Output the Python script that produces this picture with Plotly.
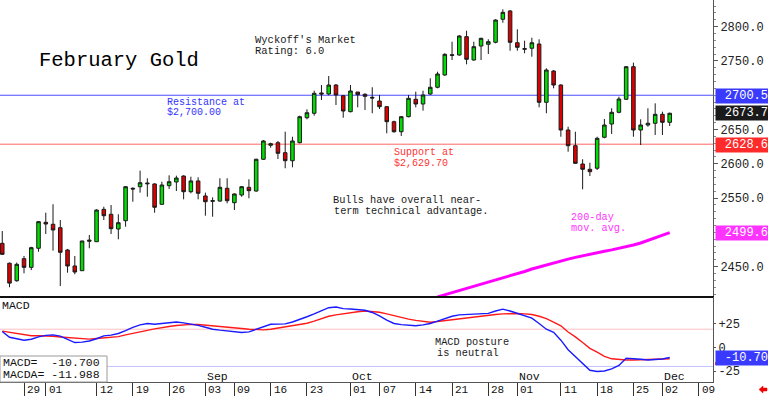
import plotly.graph_objects as go
import pandas as pd

# ---------------- data ----------------
holidays = ["2024-09-02", "2024-11-28"]
axis_days = [d for d in pd.bdate_range("2024-07-24", "2024-12-10")
             if d.strftime("%Y-%m-%d") not in holidays]

open_ = [2484, 2455, 2429.5, 2461.6, 2449, 2476.8, 2514.7, 2511.8, 2506.8, 2474.3,
         2451, 2444.1, 2487, 2486.4, 2533.6, 2526.4, 2504.9, 2517, 2564.3, 2566.6,
         2572, 2570.6, 2540.9, 2568.1, 2573.5, 2582.2, 2559.3, 2575, 2553.1, 2545.3,
         2545.7, 2564.3, 2543.3, 2554.5, 2565.7, 2560.3, 2606.6, 2627, 2630.8, 2616.2,
         2604.5, 2630.8, 2667.2, 2673.7, 2703.3, 2701.8, 2714.9, 2699.3, 2676, 2704.7,
         2701.4, 2697, 2691.6, 2683.3, 2661.4, 2646.8, 2668.7, 2694.1, 2687.2, 2701.8,
         2711.6, 2729.5, 2759.1, 2758.7, 2785.4, 2751.4, 2771.8, 2774.3, 2777.2, 2810.8,
         2822.9, 2776.6, 2767, 2768.5, 2774.7, 2689.7, 2735.3, 2714.9, 2649.3, 2626.4,
         2599.7, 2592, 2593.5, 2638.7, 2658, 2675.1, 2694.1, 2741.6, 2649.3, 2656.6,
         2659.1, 2672.2, 2660.5]
high = [2502, 2456, 2456, 2465.5, 2479, 2516.6, 2528.7, 2541, 2518, 2475.8,
        2465.5, 2487.9, 2496.2, 2533.6, 2537.4, 2539.9, 2526.4, 2567.6, 2565.7, 2590,
        2578.9, 2571.6, 2573.9, 2583.2, 2582.7, 2583.2, 2581.2, 2580.3, 2557.9, 2551.1,
        2578.9, 2578.9, 2557, 2567.6, 2577.4, 2607.5, 2634.7, 2630.8, 2633.3, 2646.8,
        2639.5, 2670.2, 2679.5, 2706.6, 2714.9, 2728, 2716.4, 2700.4, 2714.9, 2704.7,
        2702.8, 2711.6, 2700.4, 2684.3, 2662.9, 2669.7, 2700.4, 2705.2, 2706.6, 2724.7,
        2734.3, 2761.2, 2778.1, 2787.9, 2794.1, 2778.1, 2783.9, 2781.6, 2810.8, 2825.3,
        2824.3, 2796.2, 2779.6, 2783.9, 2781.6, 2739.3, 2736.8, 2716, 2654.1, 2646.8,
        2606.6, 2601.6, 2639.5, 2665.4, 2681, 2697.9, 2742.6, 2747.5, 2664.9, 2681,
        2688.2, 2676, 2674.6]
low = [2467, 2420, 2428, 2440.3, 2445, 2471.8, 2497.6, 2473.3, 2421.8, 2441.2,
       2438.9, 2443.6, 2476.8, 2486, 2518, 2497.6, 2489.9, 2508.3, 2544.7, 2557.9,
       2552, 2528.7, 2540.6, 2563.3, 2560.3, 2548.2, 2557, 2548.2, 2524.3, 2522.9,
       2544.7, 2542.4, 2532.6, 2552, 2549.7, 2559.3, 2605.6, 2623.5, 2607, 2593.5,
       2594.9, 2629.9, 2664.9, 2670.2, 2693.1, 2699.9, 2685.8, 2667.2, 2675.1, 2682.4,
       2678.5, 2673.7, 2679.9, 2644.5, 2645.4, 2640.6, 2667.8, 2682.4, 2677.5, 2700.4,
       2710.1, 2728.5, 2751.4, 2757.7, 2745.1, 2750.4, 2751.4, 2760.1, 2775.7, 2805.8,
       2764.9, 2764.9, 2761.2, 2756.2, 2682.4, 2673.7, 2710.1, 2639.5, 2617.6, 2600.1,
       2562.8, 2582.2, 2591, 2637.2, 2643.5, 2673.7, 2693.1, 2639.5, 2627.4, 2654.1,
       2642, 2642, 2655.1]
close = [2468, 2426, 2453.4, 2449, 2477.7, 2515.6, 2512.2, 2503.5, 2470.9, 2451,
         2442.2, 2487.4, 2488.5, 2532.6, 2524.3, 2505.4, 2514.1, 2566.6, 2563.3, 2572.4,
         2571, 2536.6, 2569.1, 2573.9, 2579.3, 2559.3, 2575, 2557, 2544.7, 2546.2,
         2565.7, 2546.2, 2556, 2566.6, 2560.8, 2606.6, 2633.3, 2629.3, 2615.3, 2604.5,
         2633.3, 2668.7, 2674.5, 2702.8, 2701.8, 2714.9, 2700.4, 2677, 2706.2, 2700.8,
         2698.4, 2696, 2683.3, 2661.4, 2646.8, 2668.7, 2695.5, 2687.2, 2700.4, 2711.6,
         2731, 2759.7, 2758.2, 2786.4, 2752.4, 2770.8, 2783, 2778.1, 2809.7, 2820.9,
         2777.2, 2769.9, 2767.9, 2776.6, 2689.7, 2736.8, 2714.9, 2649.3, 2626.4, 2600.7,
         2592, 2588.5, 2637.2, 2656.6, 2675.1, 2694.5, 2741.6, 2649.3, 2656.6, 2659.1,
         2672.2, 2660.5, 2673.7]

macd = [16.5, 10.5, 9,
        7.5, 8.5, 11, 12.5, 13, 11.8, 8, 5, 5.5, 6.6,
        9, 12, 12.8, 14.5, 17.5, 21, 23.5, 25, 24.2, 25,
        26.2, 26.5, 25.6, 24.6, 23, 21, 19, 18, 17.4, 16.6,
        15.6, 16.2, 19, 22, 24.1, 24.3, 24.6, 26.5, 29, 32,
        35, 38.5, 41.5, 42.2, 40.5, 40.2, 39.8, 38.8, 36.5, 33,
        28.5, 25, 23.8, 23.2, 22.6, 23.5, 25, 27.5, 30, 32.5,
        34, 34.5, 35, 35.4, 35.6, 38, 40, 38, 35.5, 33,
        30.5, 25, 19, 15.8, 7.5, -2.5, -9.5, -17, -24, -25.3,
        -24.8, -22.5, -19, -11.5, -11.7, -12.5, -13.3, -12.6, -12.2, -10.7]
macda = [17, 15.8, 14.2,
         12.8, 12.2, 12.1, 12.1, 11.6, 10.8, 10.1, 9.5, 8.8, 8.6,
         9.3, 9.8, 10.2, 11.2, 13, 14.8, 16.3, 17.8, 19.3, 20.8,
         21.8, 22.9, 23.6, 24, 23.9, 23.3, 22.8, 22, 21.1, 20.3,
         19.7, 19, 18.4, 18.3, 19, 20.3, 21.3, 22.5, 23.8, 25.2,
         27.5, 30, 32.5, 34, 35.3, 36.5, 37.2, 38, 37.5, 36.7,
         35, 33, 31, 29.5, 28.2, 27.2, 26.3, 27, 28, 29,
         30, 31, 32, 32.8, 33.6, 34.4, 35, 35.5, 35.4, 35,
         34.4, 32.5, 30, 26.5, 22.5, 16, 11, 5, -1, -5,
         -9.5, -12, -13, -13.3, -13.2, -13, -12.7, -12.4, -12.2, -11.988]
ma200 = [None] * 60 + [2406, 2409, 2412, 2415.5, 2418.5, 2421.5, 2424.5, 2427.5, 2430.5,
                       2433.5, 2436.5, 2439.5, 2443, 2446.5, 2449.5, 2453, 2456, 2458.5,
                       2461, 2463.5, 2466, 2468.5, 2470.5, 2472.5, 2474.5, 2476.5, 2479,
                       2481.5, 2484.5, 2488, 2492, 2496, 2499.6]

resistance = 2700.0
support = 2628.6
macd_hi, macd_lo = 19, -20

day_label_dates = ["2024-07-29", "2024-08-01", "2024-08-12", "2024-08-19", "2024-08-26",
                   "2024-09-03", "2024-09-09", "2024-09-16", "2024-09-23", "2024-10-01",
                   "2024-10-07", "2024-10-14", "2024-10-21", "2024-10-28", "2024-11-01",
                   "2024-11-11", "2024-11-18", "2024-11-25", "2024-12-02", "2024-12-09"]
month_labels = [("2024-09-03", "Sep"), ("2024-10-01", "Oct"),
                ("2024-11-01", "Nov"), ("2024-12-02", "Dec")]

# ---------------- helpers ----------------
day_str = [d.strftime("%Y-%m-%d") for d in axis_days]
pos_of = {s: i for i, s in enumerate(day_str)}
n = len(close)
xpos = list(range(n))

FONT = "Liberation Mono"
PW, PH = 713, 382          # plot area size in px


def px(X):
    return X / PW


def py(Y):
    return (PH - Y) / PH


fig = go.Figure()
fig.add_trace(go.Candlestick(
    x=xpos, open=open_, high=high, low=low, close=close,
    increasing=dict(fillcolor="#00dd00", line=dict(color="#1a1a1a", width=1)),
    decreasing=dict(fillcolor="#dd0000", line=dict(color="#1a1a1a", width=1)),
    whiskerwidth=0, xaxis="x", yaxis="y", showlegend=False, hoverinfo="skip"))
fig.add_trace(go.Scatter(x=xpos, y=ma200, mode="lines",
                         line=dict(color="#ff00ff", width=3),
                         xaxis="x", yaxis="y", showlegend=False, hoverinfo="skip"))
fig.add_trace(go.Scatter(x=xpos, y=macda, mode="lines",
                         line=dict(color="#ff1a1a", width=1.4),
                         xaxis="x2", yaxis="y2", showlegend=False, hoverinfo="skip"))
fig.add_trace(go.Scatter(x=xpos, y=macd, mode="lines",
                         line=dict(color="#1a1aff", width=1.4),
                         xaxis="x2", yaxis="y2", showlegend=False, hoverinfo="skip"))

xr = [-0.31, 97.97]
tick_pos = [pos_of[d] for d in day_label_dates]

shapes = [
    dict(type="line", xref="paper", yref="y", x0=0, x1=1, y0=resistance, y1=resistance,
         line=dict(color="#4d4dff", width=1), layer="below"),
    dict(type="line", xref="paper", yref="y", x0=0, x1=1, y0=support, y1=support,
         line=dict(color="#ff6666", width=1), layer="below"),
    dict(type="line", xref="paper", yref="y2", x0=0, x1=1, y0=macd_hi, y1=macd_hi,
         line=dict(color="#ffc0c0", width=1), layer="below"),
    dict(type="line", xref="paper", yref="y2", x0=0, x1=1, y0=macd_lo, y1=macd_lo,
         line=dict(color="#c0c0ff", width=1), layer="below"),
    # readout box
    dict(type="rect", xref="paper", yref="paper", x0=0, x1=px(107), y0=py(382), y1=py(356),
         fillcolor="white", line=dict(color="#9a9a9a", width=1), layer="above"),
    # MACDA marker strip peeking out below the MACD value box
    dict(type="rect", xref="paper", yref="paper", x0=px(715), x1=px(768),
         y0=py(365), y1=py(362), fillcolor="#ff2a2a", line=dict(width=0), layer="above"),
]
# red arrow bottom-right
ax = [759, 763, 763, 767, 767, 763, 763]
ay = [389.5, 386, 388, 388, 391, 391, 393]
path = "M " + " L ".join(f"{px(a):.5f},{py(b):.5f}" for a, b in zip(ax, ay)) + " Z"
shapes.append(dict(type="path", xref="paper", yref="paper", path=path,
                   fillcolor="#ee0000", line=dict(color="#ee0000", width=0.5)))

ann = []


def text(t, X, Y, size, color="#111", xanchor="left"):
    ann.append(dict(text=t, xref="paper", yref="paper", x=px(X), y=py(Y),
                    xanchor=xanchor, yanchor="middle", showarrow=False,
                    font=dict(family=FONT, size=size, color=color)))


text("February Gold", 37, 60, 20.5, "#000")
text("Wyckoff's Market", 253, 40, 10.5, "#1a1a1a")
text("Rating: 6.0", 253, 51, 10.5, "#1a1a1a")
text("Resistance at", 165, 103, 10, "#3333ff")
text("$2,700.00", 165, 113, 10, "#3333ff")
text("Support at", 392, 153, 10, "#ff3333")
text("$2,629.70", 392, 163, 10, "#ff3333")
text("Bulls have overall near-", 331, 200, 10.3, "#1a1a1a")
text("term technical advantage.", 332, 210.5, 10.3, "#1a1a1a")
text("200-day", 569, 217.5, 10.2, "#ff33ff")
text("mov. avg.", 569, 228.3, 10.2, "#ff33ff")
text("MACD", 0, 305, 11.5, "#111")
text("MACD posture", 433, 341.5, 10.3, "#1a1a1a")
text("is neutral", 435, 352.5, 10.3, "#1a1a1a")
text("MACD=  -10.700", 1, 362, 11.5, "#111")
text("MACDA= -11.988", 1, 374.5, 11.5, "#111")

for d, lab in month_labels:
    ann.append(dict(text=lab, xref="x2", yref="paper", x=pos_of[d], y=py(376),
                    xanchor="left", yanchor="middle", xshift=0, showarrow=False,
                    font=dict(family=FONT, size=11.5, color="#111")))
for d in day_label_dates:
    ann.append(dict(text=d[-2:], xref="x2", yref="paper", x=pos_of[d], y=py(389.5),
                    xanchor="left", yanchor="middle", xshift=1, showarrow=False,
                    font=dict(family=FONT, size=11, color="#111")))


def side_label(t, Y, bg):
    ann.append(dict(text=t, xref="paper", yref="paper", x=1, y=py(Y), xanchor="left",
                    yanchor="middle", xshift=2, showarrow=False, width=51, height=12,
                    align="right", bgcolor=bg, borderpad=1,
                    font=dict(family=FONT, size=12, color="white")))


side_label(f"{resistance + 0.5:.1f}", 96, "#3a3aff")
side_label(f"{close[-1]:.1f}", 113.3, "#1a1a1a")
side_label(f"{support:.1f}", 145, "#ff2a2a")
side_label(f"{ma200[-1]:.1f}", 233.3, "#ff33ff")
side_label(f"{macd[-1]:.2f}", 357.5, "#3a3aff")

fig.update_layout(
    width=768, height=396, margin=dict(l=0, r=55, t=0, b=14),
    paper_bgcolor="white", plot_bgcolor="white", showlegend=False, hovermode=False,
    shapes=shapes, annotations=ann,
    xaxis=dict(domain=[0, 1], range=xr, anchor="y", showticklabels=False, ticks="",
               showgrid=False, zeroline=False, showline=True, linecolor="#111",
               linewidth=1.5, rangeslider=dict(visible=False), fixedrange=True),
    xaxis2=dict(domain=[0, 1], range=xr, anchor="y2", matches="x", showticklabels=False,
                ticks="outside", ticklen=14, tickwidth=1, tickcolor="#333",
                tickvals=tick_pos, showgrid=False, zeroline=False, showline=True,
                linecolor="#555", linewidth=1),
    yaxis=dict(domain=[(PH - 296) / PH, 1], range=[2407.2, 2838.9], side="right",
               anchor="x", tickvals=[2450, 2550, 2600, 2650, 2750, 2800],
               tickformat=".1f", ticks="outside", ticklen=4, tickcolor="#555",
               minor=dict(dtick=10, ticks="outside", ticklen=2, tickcolor="#888"),
               showline=True, linecolor="#555", showgrid=False, zeroline=False,
               tickfont=dict(family=FONT, size=12, color="#222")),
    yaxis2=dict(domain=[0, (PH - 297) / PH], range=[-36.3, 52.7], side="right",
                anchor="x2", tickvals=[25, 0, -25], ticktext=["+25", "0", "-25"],
                ticks="outside", ticklen=2, tickcolor="#555", showline=True,
                linecolor="#555", showgrid=False, zeroline=False,
                tickfont=dict(family=FONT, size=12, color="#222")),
)

fig.write_html("out.html", config={"displayModeBar": False},
               post_script="document.body.style.margin='0';document.body.style.overflow='hidden';")
